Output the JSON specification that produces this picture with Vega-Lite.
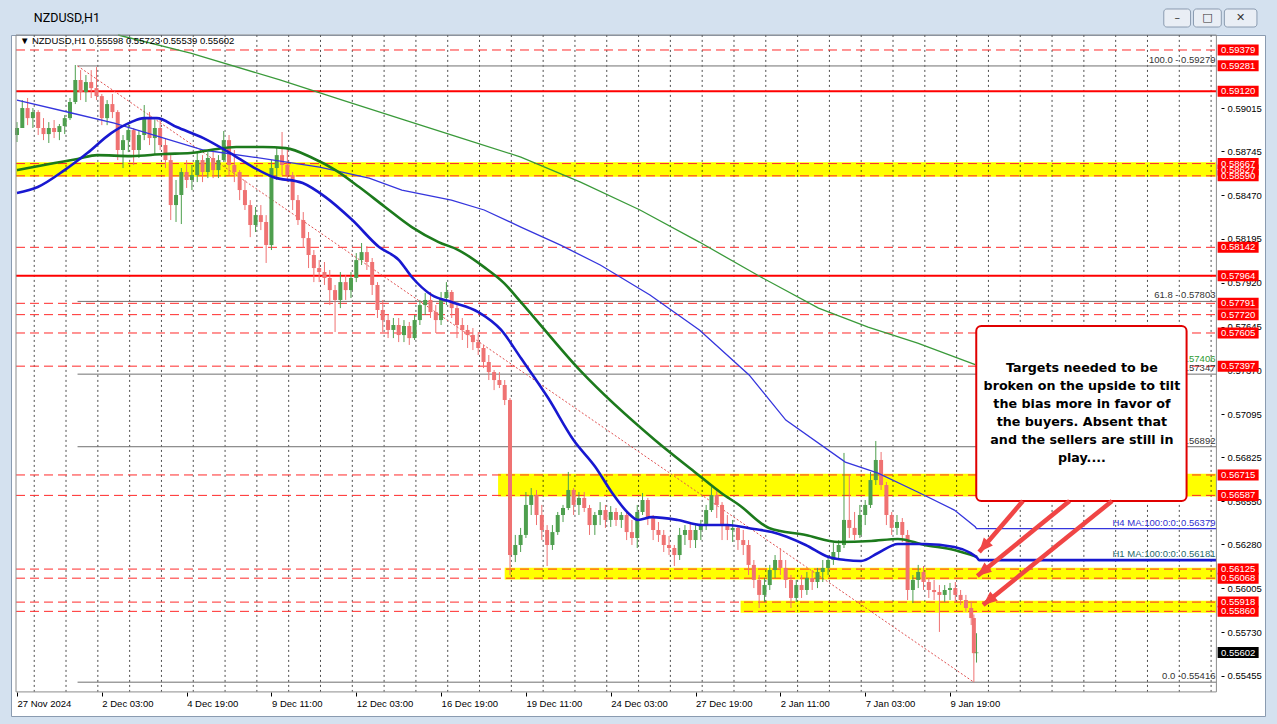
{
"$schema":"https://vega.github.io/schema/vega-lite/v6.json",
"width":1254,"height":681,
"autosize":{"type":"none"},
"padding":{"left":11,"top":35,"right":12,"bottom":8},
"background":"#d4e1ef",
"view":{"fill":"#ffffff","stroke":"#8a9bb0","strokeWidth":1},
"resolve":{"axis":{"x":"independent","y":"independent"}},
"datasets":{
"bands":[{"x1":-0.75,"p1":0.58585,"p2":0.58675},{"x1":363,"p1":0.5658,"p2":0.56722},{"x1":368,"p1":0.5606,"p2":0.56133},{"x1":546,"p1":0.55852,"p2":0.55926}],
"grid":[{"g":13},{"g":37},{"g":61},{"g":85},{"g":109},{"g":133},{"g":157},{"g":181},{"g":205},{"g":229},{"g":253},{"g":277},{"g":301},{"g":325},{"g":349},{"g":373},{"g":397},{"g":421},{"g":445},{"g":469},{"g":493},{"g":517},{"g":541},{"g":565},{"g":589},{"g":613},{"g":637},{"g":661},{"g":685},{"g":709},{"g":733},{"g":757},{"g":781},{"g":805},{"g":829},{"g":853},{"g":877},{"g":901}],
"levels":[{"p":0.59379,"k":"dash"},{"p":0.58667,"k":"dash"},{"p":0.5859,"k":"dash"},{"p":0.58142,"k":"dash"},{"p":0.57791,"k":"dash"},{"p":0.5772,"k":"dash"},{"p":0.57605,"k":"dash"},{"p":0.57397,"k":"dash"},{"p":0.56715,"k":"dash"},{"p":0.56587,"k":"dash"},{"p":0.56125,"k":"dash"},{"p":0.56068,"k":"dash"},{"p":0.55918,"k":"dash"},{"p":0.5586,"k":"dash"},{"p":0.5912,"k":"solid"},{"p":0.57964,"k":"solid"},{"p":0.59279,"k":"fib"},{"p":0.57803,"k":"fib"},{"p":0.57347,"k":"fib"},{"p":0.56892,"k":"fib"},{"p":0.55416,"k":"fib"}],
"candles":[
{"i":0,"o":0.58846,"h":0.58927,"l":0.58802,"c":0.5889},
{"i":4,"o":0.5889,"h":0.59065,"l":0.5889,"c":0.59015},
{"i":8,"o":0.59015,"h":0.59078,"l":0.58908,"c":0.58952},
{"i":12,"o":0.58952,"h":0.59015,"l":0.5889,"c":0.5899},
{"i":16,"o":0.5899,"h":0.59002,"l":0.58846,"c":0.5889},
{"i":20,"o":0.5889,"h":0.58952,"l":0.58814,"c":0.58852},
{"i":24,"o":0.58852,"h":0.58927,"l":0.58796,"c":0.5889},
{"i":28,"o":0.5889,"h":0.5894,"l":0.58827,"c":0.58865},
{"i":32,"o":0.58865,"h":0.58915,"l":0.58814,"c":0.58902},
{"i":36,"o":0.58902,"h":0.58971,"l":0.58852,"c":0.58952},
{"i":40,"o":0.58952,"h":0.59078,"l":0.5894,"c":0.59053},
{"i":44,"o":0.59053,"h":0.59285,"l":0.5904,"c":0.59191},
{"i":48,"o":0.59191,"h":0.59253,"l":0.59065,"c":0.59115},
{"i":52,"o":0.59115,"h":0.59222,"l":0.59053,"c":0.59178},
{"i":56,"o":0.59178,"h":0.59253,"l":0.59078,"c":0.5914},
{"i":60,"o":0.5914,"h":0.59272,"l":0.59065,"c":0.5909},
{"i":64,"o":0.5909,"h":0.59103,"l":0.58908,"c":0.58952},
{"i":68,"o":0.58952,"h":0.59065,"l":0.58908,"c":0.5904},
{"i":72,"o":0.5904,"h":0.59103,"l":0.58952,"c":0.5899},
{"i":76,"o":0.5899,"h":0.59002,"l":0.58689,"c":0.58752},
{"i":80,"o":0.58752,"h":0.58846,"l":0.58639,"c":0.58814},
{"i":84,"o":0.58814,"h":0.58927,"l":0.58739,"c":0.58877},
{"i":88,"o":0.58877,"h":0.5889,"l":0.58658,"c":0.58752},
{"i":92,"o":0.58752,"h":0.58877,"l":0.58702,"c":0.58846},
{"i":96,"o":0.58846,"h":0.59034,"l":0.58814,"c":0.58952},
{"i":100,"o":0.58952,"h":0.5899,"l":0.58783,"c":0.58827},
{"i":104,"o":0.58827,"h":0.5894,"l":0.5872,"c":0.5889},
{"i":108,"o":0.5889,"h":0.5894,"l":0.58752,"c":0.58783},
{"i":112,"o":0.58783,"h":0.58827,"l":0.58639,"c":0.58689},
{"i":116,"o":0.58689,"h":0.5872,"l":0.58313,"c":0.58407},
{"i":120,"o":0.58407,"h":0.58564,"l":0.58301,"c":0.5847},
{"i":124,"o":0.5847,"h":0.58639,"l":0.58288,"c":0.58614},
{"i":128,"o":0.58614,"h":0.58689,"l":0.58514,"c":0.58564},
{"i":132,"o":0.58564,"h":0.58658,"l":0.58501,"c":0.58595},
{"i":136,"o":0.58595,"h":0.58739,"l":0.58551,"c":0.58689},
{"i":140,"o":0.58689,"h":0.5872,"l":0.58551,"c":0.58614},
{"i":144,"o":0.58614,"h":0.58739,"l":0.58576,"c":0.58702},
{"i":148,"o":0.58702,"h":0.58752,"l":0.58576,"c":0.58626},
{"i":152,"o":0.58626,"h":0.5872,"l":0.58576,"c":0.58689},
{"i":156,"o":0.58689,"h":0.58871,"l":0.58677,"c":0.58814},
{"i":160,"o":0.58814,"h":0.58846,"l":0.58595,"c":0.58658},
{"i":164,"o":0.58658,"h":0.58752,"l":0.58551,"c":0.58614},
{"i":168,"o":0.58614,"h":0.58626,"l":0.58438,"c":0.58501},
{"i":172,"o":0.58501,"h":0.58564,"l":0.58376,"c":0.58407},
{"i":176,"o":0.58407,"h":0.58438,"l":0.58206,"c":0.58282},
{"i":180,"o":0.58282,"h":0.58395,"l":0.58238,"c":0.58344},
{"i":184,"o":0.58344,"h":0.58407,"l":0.5825,"c":0.58301},
{"i":188,"o":0.58301,"h":0.58344,"l":0.58044,"c":0.58156},
{"i":192,"o":0.58156,"h":0.58689,"l":0.58125,"c":0.58639},
{"i":196,"o":0.58639,"h":0.58771,"l":0.58564,"c":0.5872},
{"i":200,"o":0.5872,"h":0.58865,"l":0.58595,"c":0.58658},
{"i":204,"o":0.58658,"h":0.58764,"l":0.58551,"c":0.58595},
{"i":208,"o":0.58595,"h":0.58614,"l":0.58376,"c":0.58438},
{"i":212,"o":0.58438,"h":0.5847,"l":0.58282,"c":0.58313},
{"i":216,"o":0.58313,"h":0.58363,"l":0.58138,"c":0.582},
{"i":220,"o":0.582,"h":0.58238,"l":0.58012,"c":0.58094},
{"i":224,"o":0.58094,"h":0.58125,"l":0.57924,"c":0.58012},
{"i":228,"o":0.58012,"h":0.58062,"l":0.57924,"c":0.57987},
{"i":232,"o":0.57987,"h":0.5805,"l":0.57906,"c":0.5795},
{"i":236,"o":0.5795,"h":0.58,"l":0.5778,"c":0.57874},
{"i":240,"o":0.57874,"h":0.57906,"l":0.57611,"c":0.57812},
{"i":244,"o":0.57812,"h":0.57987,"l":0.57761,"c":0.57924},
{"i":248,"o":0.57924,"h":0.57968,"l":0.57812,"c":0.57874},
{"i":252,"o":0.57874,"h":0.57987,"l":0.57824,"c":0.5795},
{"i":256,"o":0.5795,"h":0.58106,"l":0.57924,"c":0.58062},
{"i":260,"o":0.58062,"h":0.58169,"l":0.58031,"c":0.58112},
{"i":264,"o":0.58112,"h":0.5815,"l":0.58,"c":0.5805},
{"i":268,"o":0.5805,"h":0.58075,"l":0.57843,"c":0.57906},
{"i":272,"o":0.57906,"h":0.57924,"l":0.57699,"c":0.57749},
{"i":276,"o":0.57749,"h":0.57812,"l":0.57611,"c":0.57686},
{"i":280,"o":0.57686,"h":0.57718,"l":0.57573,"c":0.57624},
{"i":284,"o":0.57624,"h":0.57699,"l":0.57573,"c":0.57655},
{"i":288,"o":0.57655,"h":0.57699,"l":0.57548,"c":0.57592},
{"i":292,"o":0.57592,"h":0.57686,"l":0.57548,"c":0.57649},
{"i":296,"o":0.57649,"h":0.57674,"l":0.5753,"c":0.57573},
{"i":300,"o":0.57573,"h":0.57718,"l":0.57561,"c":0.57686},
{"i":304,"o":0.57686,"h":0.57812,"l":0.57655,"c":0.5778},
{"i":308,"o":0.5778,"h":0.57855,"l":0.57718,"c":0.57812},
{"i":312,"o":0.57812,"h":0.57862,"l":0.57699,"c":0.57736},
{"i":316,"o":0.57736,"h":0.5778,"l":0.57605,"c":0.57686},
{"i":320,"o":0.57686,"h":0.57862,"l":0.57655,"c":0.57824},
{"i":324,"o":0.57824,"h":0.57924,"l":0.5778,"c":0.57862},
{"i":328,"o":0.57862,"h":0.57874,"l":0.57699,"c":0.57761},
{"i":332,"o":0.57761,"h":0.5778,"l":0.57573,"c":0.57655},
{"i":336,"o":0.57655,"h":0.57699,"l":0.57561,"c":0.57624},
{"i":340,"o":0.57624,"h":0.57655,"l":0.57511,"c":0.57592},
{"i":344,"o":0.57592,"h":0.57636,"l":0.57498,"c":0.57548},
{"i":348,"o":0.57548,"h":0.57611,"l":0.57467,"c":0.57511},
{"i":352,"o":0.57511,"h":0.5753,"l":0.57385,"c":0.57423},
{"i":356,"o":0.57423,"h":0.57467,"l":0.5731,"c":0.5736},
{"i":360,"o":0.5736,"h":0.57373,"l":0.57247,"c":0.5731},
{"i":364,"o":0.5731,"h":0.5736,"l":0.5726,"c":0.57279},
{"i":368,"o":0.57279,"h":0.5731,"l":0.57153,"c":0.57185},
{"i":372,"o":0.57185,"h":0.57197,"l":0.56088,"c":0.56213},
{"i":376,"o":0.56213,"h":0.56339,"l":0.56169,"c":0.56276},
{"i":380,"o":0.56276,"h":0.56383,"l":0.56232,"c":0.56339},
{"i":384,"o":0.56339,"h":0.56608,"l":0.5632,"c":0.56527},
{"i":388,"o":0.56527,"h":0.56633,"l":0.56464,"c":0.56589},
{"i":392,"o":0.56589,"h":0.56621,"l":0.56401,"c":0.56464},
{"i":396,"o":0.56464,"h":0.56527,"l":0.56307,"c":0.5637},
{"i":400,"o":0.5637,"h":0.56401,"l":0.56144,"c":0.56276},
{"i":404,"o":0.56276,"h":0.56401,"l":0.56245,"c":0.56357},
{"i":408,"o":0.56357,"h":0.56483,"l":0.56339,"c":0.56464},
{"i":412,"o":0.56464,"h":0.56527,"l":0.5642,"c":0.56508},
{"i":416,"o":0.56508,"h":0.56734,"l":0.56495,"c":0.56621},
{"i":420,"o":0.56621,"h":0.56633,"l":0.56464,"c":0.56527},
{"i":424,"o":0.56527,"h":0.56608,"l":0.56464,"c":0.56571},
{"i":428,"o":0.56571,"h":0.56608,"l":0.56483,"c":0.56508},
{"i":432,"o":0.56508,"h":0.56527,"l":0.56339,"c":0.56401},
{"i":436,"o":0.56401,"h":0.56483,"l":0.56339,"c":0.56464},
{"i":440,"o":0.56464,"h":0.56545,"l":0.56401,"c":0.56495},
{"i":444,"o":0.56495,"h":0.56527,"l":0.56383,"c":0.56433},
{"i":448,"o":0.56433,"h":0.5652,"l":0.56389,"c":0.56483},
{"i":452,"o":0.56483,"h":0.56508,"l":0.56395,"c":0.56433},
{"i":456,"o":0.56433,"h":0.56483,"l":0.56383,"c":0.56464},
{"i":460,"o":0.56464,"h":0.56483,"l":0.56307,"c":0.56357},
{"i":464,"o":0.56357,"h":0.56433,"l":0.56276,"c":0.5632},
{"i":468,"o":0.5632,"h":0.56527,"l":0.56257,"c":0.56483},
{"i":472,"o":0.56483,"h":0.56602,"l":0.56464,"c":0.56558},
{"i":476,"o":0.56558,"h":0.56571,"l":0.56401,"c":0.56445},
{"i":480,"o":0.56445,"h":0.56464,"l":0.56307,"c":0.5637},
{"i":484,"o":0.5637,"h":0.5642,"l":0.56295,"c":0.56339},
{"i":488,"o":0.56339,"h":0.5637,"l":0.56232,"c":0.56276},
{"i":492,"o":0.56276,"h":0.56332,"l":0.56213,"c":0.56257},
{"i":496,"o":0.56257,"h":0.56276,"l":0.56144,"c":0.56213},
{"i":500,"o":0.56213,"h":0.56383,"l":0.56182,"c":0.56339},
{"i":504,"o":0.56339,"h":0.56401,"l":0.56276,"c":0.5637},
{"i":508,"o":0.5637,"h":0.5642,"l":0.56257,"c":0.56307},
{"i":512,"o":0.56307,"h":0.56401,"l":0.56257,"c":0.5637},
{"i":516,"o":0.5637,"h":0.56433,"l":0.56307,"c":0.56401},
{"i":520,"o":0.56401,"h":0.56527,"l":0.5637,"c":0.56495},
{"i":524,"o":0.56495,"h":0.56639,"l":0.56483,"c":0.56589},
{"i":528,"o":0.56589,"h":0.56621,"l":0.56445,"c":0.56527},
{"i":532,"o":0.56527,"h":0.56545,"l":0.56307,"c":0.56401},
{"i":536,"o":0.56401,"h":0.56464,"l":0.56307,"c":0.5637},
{"i":540,"o":0.5637,"h":0.56433,"l":0.56295,"c":0.56383},
{"i":544,"o":0.56383,"h":0.56401,"l":0.56245,"c":0.56307},
{"i":548,"o":0.56307,"h":0.5637,"l":0.56213,"c":0.56276},
{"i":552,"o":0.56276,"h":0.56307,"l":0.56088,"c":0.56151},
{"i":556,"o":0.56151,"h":0.56182,"l":0.56006,"c":0.56057},
{"i":560,"o":0.56057,"h":0.56088,"l":0.55881,"c":0.55963},
{"i":564,"o":0.55963,"h":0.56069,"l":0.55919,"c":0.56025},
{"i":568,"o":0.56025,"h":0.56151,"l":0.55994,"c":0.56119},
{"i":572,"o":0.56119,"h":0.56213,"l":0.56069,"c":0.56182},
{"i":576,"o":0.56182,"h":0.56257,"l":0.56088,"c":0.56132},
{"i":580,"o":0.56132,"h":0.56182,"l":0.56006,"c":0.56057},
{"i":584,"o":0.56057,"h":0.56088,"l":0.55881,"c":0.55944},
{"i":588,"o":0.55944,"h":0.56057,"l":0.55919,"c":0.56025},
{"i":592,"o":0.56025,"h":0.56088,"l":0.55944,"c":0.55994},
{"i":596,"o":0.55994,"h":0.56107,"l":0.55963,"c":0.56069},
{"i":600,"o":0.56069,"h":0.56119,"l":0.55994,"c":0.56044},
{"i":604,"o":0.56044,"h":0.56132,"l":0.56006,"c":0.56107},
{"i":608,"o":0.56107,"h":0.56182,"l":0.56044,"c":0.56132},
{"i":612,"o":0.56132,"h":0.56213,"l":0.56088,"c":0.56182},
{"i":616,"o":0.56182,"h":0.56288,"l":0.56151,"c":0.56232},
{"i":620,"o":0.56232,"h":0.56307,"l":0.56182,"c":0.56276},
{"i":624,"o":0.56276,"h":0.56853,"l":0.56257,"c":0.56433},
{"i":628,"o":0.56433,"h":0.56715,"l":0.5632,"c":0.56383},
{"i":632,"o":0.56383,"h":0.56483,"l":0.56307,"c":0.56339},
{"i":636,"o":0.56339,"h":0.56527,"l":0.5632,"c":0.56464},
{"i":640,"o":0.56464,"h":0.56558,"l":0.56401,"c":0.56527},
{"i":644,"o":0.56527,"h":0.56734,"l":0.56508,"c":0.56683},
{"i":648,"o":0.56683,"h":0.56928,"l":0.56652,"c":0.56809},
{"i":652,"o":0.56809,"h":0.56859,"l":0.56621,"c":0.56652},
{"i":656,"o":0.56652,"h":0.56671,"l":0.56401,"c":0.56464},
{"i":660,"o":0.56464,"h":0.56483,"l":0.56339,"c":0.56383},
{"i":664,"o":0.56383,"h":0.56464,"l":0.56339,"c":0.5642},
{"i":668,"o":0.5642,"h":0.56445,"l":0.56295,"c":0.56339},
{"i":672,"o":0.56339,"h":0.5637,"l":0.55931,"c":0.55994},
{"i":676,"o":0.55994,"h":0.56088,"l":0.55912,"c":0.56057},
{"i":680,"o":0.56057,"h":0.56151,"l":0.56006,"c":0.56107},
{"i":684,"o":0.56107,"h":0.56144,"l":0.55994,"c":0.56044},
{"i":688,"o":0.56044,"h":0.56069,"l":0.55944,"c":0.55994},
{"i":692,"o":0.55994,"h":0.56057,"l":0.55931,"c":0.55981},
{"i":696,"o":0.55981,"h":0.56025,"l":0.55731,"c":0.55963},
{"i":700,"o":0.55963,"h":0.56025,"l":0.55919,"c":0.55994},
{"i":704,"o":0.55994,"h":0.56038,"l":0.55931,"c":0.56006},
{"i":708,"o":0.56006,"h":0.56044,"l":0.55919,"c":0.55963},
{"i":712,"o":0.55963,"h":0.55994,"l":0.559,"c":0.55931},
{"i":716,"o":0.55931,"h":0.55963,"l":0.55856,"c":0.55881},
{"i":720,"o":0.55881,"h":0.55919,"l":0.55774,"c":0.55818},
{"i":722,"o":0.55818,"h":0.5584,"l":0.55416,"c":0.55598},
{"i":724,"o":0.55598,"h":0.55723,"l":0.55539,"c":0.55602}
],
"ma":[
{"s":"g4","i":76.3,"v":0.59473},{"s":"g4","i":131,"v":0.5936},{"s":"g4","i":198.4,"v":0.59191},{"s":"g4","i":245.5,"v":0.59065},{"s":"g4","i":292.7,"v":0.5894},{"s":"g4","i":335.3,"v":0.58827},{"s":"g4","i":380.2,"v":0.58708},{"s":"g4","i":425.2,"v":0.58551},{"s":"g4","i":470.1,"v":0.58376},{"s":"g4","i":514.9,"v":0.58175},{"s":"g4","i":559.9,"v":0.57962},{"s":"g4","i":604.8,"v":0.57761},{"s":"g4","i":642.2,"v":0.57642},{"s":"g4","i":679.6,"v":0.57542},{"s":"g4","i":723,"v":0.57406},
{"s":"b4","i":0,"v":0.59065},{"s":"b4","i":41.2,"v":0.58984},{"s":"b4","i":73.4,"v":0.58921},{"s":"b4","i":103.3,"v":0.58846},{"s":"b4","i":140.7,"v":0.58752},{"s":"b4","i":178.1,"v":0.58708},{"s":"b4","i":228.3,"v":0.58645},{"s":"b4","i":265.7,"v":0.58576},{"s":"b4","i":290.4,"v":0.58501},{"s":"b4","i":327.8,"v":0.58438},{"s":"b4","i":352.5,"v":0.58376},{"s":"b4","i":380.2,"v":0.58269},{"s":"b4","i":410.2,"v":0.58156},{"s":"b4","i":440.1,"v":0.58031},{"s":"b4","i":477.6,"v":0.57843},{"s":"b4","i":514.9,"v":0.57624},{"s":"b4","i":552.4,"v":0.57342},{"s":"b4","i":580.1,"v":0.57059},{"s":"b4","i":625,"v":0.56796},{"s":"b4","i":649.7,"v":0.56727},{"s":"b4","i":679.6,"v":0.56608},{"s":"b4","i":707.3,"v":0.56495},{"s":"b4","i":723,"v":0.5639},{"s":"b4","i":724,"v":0.56379},{"s":"b4","i":905,"v":0.56379},
{"s":"g1","i":0,"v":0.58626},{"s":"g1","i":28.4,"v":0.5867},{"s":"g1","i":45.7,"v":0.58696},{"s":"g1","i":60.6,"v":0.5872},{"s":"g1","i":86.1,"v":0.58714},{"s":"g1","i":110.8,"v":0.58727},{"s":"g1","i":131,"v":0.58733},{"s":"g1","i":146,"v":0.58752},{"s":"g1","i":165.4,"v":0.58771},{"s":"g1","i":185.6,"v":0.58771},{"s":"g1","i":202.8,"v":0.58764},{"s":"g1","i":223,"v":0.58702},{"s":"g1","i":240.3,"v":0.58626},{"s":"g1","i":258.2,"v":0.5852},{"s":"g1","i":277.7,"v":0.58395},{"s":"g1","i":297.9,"v":0.58269},{"s":"g1","i":318.1,"v":0.58175},{"s":"g1","i":333.1,"v":0.58125},{"s":"g1","i":352.5,"v":0.58018},{"s":"g1","i":367.5,"v":0.57918},{"s":"g1","i":380.2,"v":0.57799},{"s":"g1","i":425.2,"v":0.57367},{"s":"g1","i":481.3,"v":0.56934},{"s":"g1","i":511.3,"v":0.56734},{"s":"g1","i":531.4,"v":0.56602},{"s":"g1","i":544.9,"v":0.56527},{"s":"g1","i":567.4,"v":0.56383},{"s":"g1","i":595.1,"v":0.56339},{"s":"g1","i":619.8,"v":0.56295},{"s":"g1","i":644.5,"v":0.56301},{"s":"g1","i":664.7,"v":0.56314},{"s":"g1","i":684.9,"v":0.56276},{"s":"g1","i":707.3,"v":0.56245},{"s":"g1","i":724.5,"v":0.56201},
{"s":"b1","i":0,"v":0.58482},{"s":"b1","i":15.7,"v":0.5852},{"s":"b1","i":35.9,"v":0.58626},{"s":"b1","i":53.1,"v":0.58733},{"s":"b1","i":71.1,"v":0.58858},{"s":"b1","i":86.1,"v":0.58927},{"s":"b1","i":95.8,"v":0.58952},{"s":"b1","i":105.5,"v":0.58952},{"s":"b1","i":120.5,"v":0.58896},{"s":"b1","i":140.7,"v":0.58827},{"s":"b1","i":160.9,"v":0.58733},{"s":"b1","i":178.1,"v":0.58645},{"s":"b1","i":193.1,"v":0.58583},{"s":"b1","i":215.6,"v":0.58545},{"s":"b1","i":232.8,"v":0.58457},{"s":"b1","i":253,"v":0.58313},{"s":"b1","i":273.2,"v":0.58144},{"s":"b1","i":288.2,"v":0.58062},{"s":"b1","i":297.9,"v":0.57956},{"s":"b1","i":312.9,"v":0.57843},{"s":"b1","i":327.8,"v":0.57799},{"s":"b1","i":348.1,"v":0.57736},{"s":"b1","i":365.3,"v":0.57624},{"s":"b1","i":380.2,"v":0.57448},{"s":"b1","i":400.8,"v":0.57197},{"s":"b1","i":419.9,"v":0.56934},{"s":"b1","i":436.4,"v":0.56765},{"s":"b1","i":449.1,"v":0.56602},{"s":"b1","i":461.1,"v":0.56477},{"s":"b1","i":468.6,"v":0.56433},{"s":"b1","i":479,"v":0.56451},{"s":"b1","i":498.5,"v":0.56433},{"s":"b1","i":516.5,"v":0.56401},{"s":"b1","i":535.9,"v":0.56401},{"s":"b1","i":556.1,"v":0.56376},{"s":"b1","i":569.6,"v":0.56357},{"s":"b1","i":595.1,"v":0.56276},{"s":"b1","i":612.3,"v":0.56201},{"s":"b1","i":625,"v":0.56182},{"s":"b1","i":637,"v":0.56176},{"s":"b1","i":649.7,"v":0.56226},{"s":"b1","i":664.7,"v":0.56282},{"s":"b1","i":684.9,"v":0.56282},{"s":"b1","i":707.3,"v":0.56264},{"s":"b1","i":719.3,"v":0.56226},{"s":"b1","i":724.5,"v":0.56195},{"s":"b1","i":726,"v":0.56181},{"s":"b1","i":905,"v":0.56181}
],
"notes":[{"t":"100.0 - 0.59279","p":0.59279,"k":"f"},{"t":"61.8 - 0.57803","p":0.57803,"k":"f"},{"t":"50.0 - 0.57347","p":0.57347,"k":"f"},{"t":"38.2 - 0.56892","p":0.56892,"k":"f"},{"t":"0.0 -0.55416","p":0.55416,"k":"f"},{"t":"H4 MA:200:0:0: 0.57406","p":0.57406,"k":"g"},{"t":"H4 MA:100:0:0: 0.56379","p":0.56379,"k":"b"},{"t":"H1 MA:100:0:0: 0.56181","p":0.56181,"k":"t"}],
"arrows":[{"n":1,"x1":759,"p1":0.56552,"x2":726,"p2":0.56232},{"n":2,"x1":794.2,"p1":0.56552,"x2":724.6,"p2":0.56082},{"n":3,"x1":826.3,"p1":0.56552,"x2":729,"p2":0.559}],
"tags":[{"p":0.59379},{"p":0.59281},{"p":0.5912},{"p":0.5859},{"p":0.58667},{"p":0.58627},{"p":0.58142},{"p":0.57964},{"p":0.57791},{"p":0.5772},{"p":0.57605},{"p":0.57397},{"p":0.56715},{"p":0.56587},{"p":0.56125},{"p":0.56068},{"p":0.55918},{"p":0.5586}],
"buttons":[{"b":"min","x1":865.3,"x2":885.5,"t":"–"},{"b":"max","x1":887.7,"x2":908.7,"t":"□"},{"b":"close","x1":911,"x2":935.6,"t":"✕"}]
},
"layer":[
{"data":{"name":"bands"},"mark":{"type":"rect","color":"#ffff00"},
 "encoding":{"x":{"field":"x1","type":"quantitative","scale":{"domain":[-0.75,937.9],"nice":false,"zero":false},"axis":null},"x2":{"datum":905},
 "y":{"field":"p1","type":"quantitative","scale":{"domain":[0.55204,0.59473],"nice":false,"zero":false},"axis":null},"y2":{"field":"p2"}}},
{"data":{"name":"grid"},"mark":{"type":"rule","color":"#000000","strokeDash":[2,3],"strokeWidth":1,"opacity":0.7},
 "encoding":{"x":{"field":"g","type":"quantitative","axis":null},"y":{"datum":0.55355,"type":"quantitative","axis":null},"y2":{"datum":0.59473}}},
{"data":{"name":"levels"},"transform":[{"filter":"datum.k=='dash'"}],"mark":{"type":"rule","color":"#ff2a2a","strokeDash":[9,5],"strokeWidth":1},
 "encoding":{"x":{"datum":-0.75,"type":"quantitative","axis":null},"x2":{"datum":905},"y":{"field":"p","type":"quantitative","axis":null}}},
{"data":{"name":"levels"},"transform":[{"filter":"datum.k=='solid'"}],"mark":{"type":"rule","color":"#ff0000","strokeWidth":2},
 "encoding":{"x":{"datum":-0.75,"type":"quantitative","axis":null},"x2":{"datum":905},"y":{"field":"p","type":"quantitative","axis":null}}},
{"data":{"name":"levels"},"transform":[{"filter":"datum.k=='fib'"}],"mark":{"type":"rule","color":"#707070","strokeWidth":1},
 "encoding":{"x":{"datum":45.7,"type":"quantitative","axis":null},"x2":{"datum":905},"y":{"field":"p","type":"quantitative","axis":null}}},
{"data":{"values":[{"x1":45.7,"p1":0.59279,"x2":722,"p2":0.55416}]},"mark":{"type":"rule","color":"#e05050","strokeDash":[2,2],"strokeWidth":1},
 "encoding":{"x":{"field":"x1","type":"quantitative","axis":null},"x2":{"field":"x2"},"y":{"field":"p1","type":"quantitative","axis":null},"y2":{"field":"p2"}}},
{"data":{"name":"candles"},"mark":{"type":"rule","strokeWidth":1},
 "encoding":{"x":{"field":"i","type":"quantitative","axis":{"orient":"bottom","offset":-24,"values":[0,64,128,192,256,320,384,448,512,576,640,704],"labelExpr":"['27 Nov 2024','2 Dec 03:00','4 Dec 19:00','9 Dec 11:00','12 Dec 03:00','16 Dec 19:00','19 Dec 11:00','24 Dec 03:00','27 Dec 19:00','2 Jan 11:00','7 Jan 03:00','9 Jan 19:00'][round(datum.value/64)]","labelAlign":"left","labelFont":"Liberation Sans","labelFontSize":9.5,"labelColor":"#000000","tickColor":"#000000","tickSize":4,"labelPadding":2,"domain":false,"grid":false,"title":null,"labelFlush":false,"labelOverlap":false}},
 "y":{"field":"l","type":"quantitative","axis":{"orient":"right","offset":-44,"values":[0.59015,0.58745,0.5847,0.58195,0.5792,0.57645,0.5737,0.57095,0.56825,0.5655,0.5628,0.56005,0.5573,0.55455],"format":".5f","labelFont":"Liberation Sans","labelFontSize":9.5,"labelColor":"#000000","tickColor":"#000000","tickSize":3,"labelPadding":3,"domain":false,"grid":false,"title":null,"labelOverlap":false,"labelBaseline":"middle"}},
 "y2":{"field":"h"},
 "color":{"condition":{"test":"datum.c >= datum.o","value":"#4e9f4e"},"value":"#ef7272"}}},
{"data":{"name":"candles"},"mark":{"type":"bar"},
 "encoding":{"x":{"field":"i","type":"quantitative","axis":null},"y":{"field":"o","type":"quantitative","axis":null},"y2":{"field":"c"},"size":{"value":4},
 "color":{"condition":{"test":"datum.c >= datum.o","value":"#4e9f4e"},"value":"#ef7272"}}},
{"data":{"name":"ma"},"transform":[{"filter":"datum.s=='g4' || datum.s=='b4'"}],"mark":{"type":"line","strokeWidth":1.3,"interpolate":"linear"},
 "encoding":{"x":{"field":"i","type":"quantitative","axis":null},"y":{"field":"v","type":"quantitative","axis":null},
 "color":{"field":"s","type":"nominal","scale":{"domain":["g4","b4","g1","b1"],"range":["#3a9a3a","#3535dd","#1c7a1c","#1818d0"]},"legend":null}}},
{"data":{"name":"ma"},"transform":[{"filter":"datum.s=='g1' || datum.s=='b1'"}],"mark":{"type":"line","strokeWidth":2.6,"interpolate":"monotone"},
 "encoding":{"x":{"field":"i","type":"quantitative","axis":null},"y":{"field":"v","type":"quantitative","axis":null},
 "color":{"field":"s","type":"nominal","scale":{"domain":["g4","b4","g1","b1"],"range":["#3a9a3a","#3535dd","#1c7a1c","#1818d0"]},"legend":null}}},
{"data":{"name":"notes"},"mark":{"type":"text","align":"right","baseline":"bottom","dy":-1,"font":"Liberation Sans","fontSize":9.5},
 "encoding":{"x":{"datum":904.3,"type":"quantitative","axis":null},"y":{"field":"p","type":"quantitative","axis":null},"text":{"field":"t"},
 "color":{"condition":[{"test":"datum.k=='g'","value":"#2f9a2f"},{"test":"datum.k=='b'","value":"#3030d0"},{"test":"datum.k=='t'","value":"#1f6a6a"}],"value":"#333333"}}},
{"data":{"values":[{}]},"mark":{"type":"text","align":"left","baseline":"middle","font":"Liberation Sans","fontSize":9.5,"color":"#000000"},
 "encoding":{"x":{"datum":2.2,"type":"quantitative","axis":null},"y":{"datum":0.59435,"type":"quantitative","axis":null},"text":{"value":"▼ NZDUSD,H1  0.55598 0.55723 0.55539 0.55602"}}},
{"data":{"values":[{}]},"mark":{"type":"rect","fill":"#ffffff","stroke":"#e00000","strokeWidth":2,"cornerRadius":5},
 "encoding":{"x":{"datum":723.8,"type":"quantitative","axis":null},"x2":{"datum":882.5},"y":{"datum":0.56552,"type":"quantitative","axis":null},"y2":{"datum":0.57649}}},
{"data":{"values":[{}]},"mark":{"type":"text","align":"center","baseline":"middle","font":"DejaVu Sans","fontWeight":"bold","fontSize":12.7,"lineHeight":18,"color":"#000000"},
 "encoding":{"x":{"datum":803.5,"type":"quantitative","axis":null},"y":{"datum":0.57385,"type":"quantitative","axis":null},
 "text":{"value":["Targets needed to be","broken on the upside to tilt","the bias more in favor of","the buyers. Absent that","and the sellers are still in","play...."]}}},
{"data":{"name":"arrows"},"mark":{"type":"rule","color":"#f04545","strokeWidth":4.5},
 "encoding":{"x":{"field":"x1","type":"quantitative","axis":null},"x2":{"field":"x2"},"y":{"field":"p1","type":"quantitative","axis":null},"y2":{"field":"p2"}}},
{"data":{"name":"arrows"},"mark":{"type":"point","shape":"M0,0L-0.6,1.4L0.6,1.4Z","filled":true,"size":400,"color":"#f04545","opacity":1},
 "encoding":{"x":{"field":"x2","type":"quantitative","axis":null},"y":{"field":"p2","type":"quantitative","axis":null},
 "angle":{"field":"n","type":"quantitative","scale":{"domain":[1,2,3],"range":[221,231,231]},"legend":null}}},
{"data":{"values":[{}]},"mark":{"type":"rect","fillOpacity":0,"stroke":"#8c8c8c","strokeWidth":1},
 "encoding":{"x":{"datum":-0.75,"type":"quantitative","axis":null},"x2":{"datum":905},"y":{"datum":0.55355,"type":"quantitative","axis":null},"y2":{"datum":0.59473}}},
{"data":{"name":"tags"},"mark":{"type":"tick","orient":"horizontal","size":41,"thickness":11,"color":"#ff0000","opacity":1},
 "encoding":{"x":{"datum":921.4,"type":"quantitative","axis":null},"y":{"field":"p","type":"quantitative","axis":null}}},
{"data":{"name":"tags"},"mark":{"type":"text","align":"center","baseline":"middle","font":"Liberation Sans","fontSize":9.5,"color":"#ffffff"},
 "encoding":{"x":{"datum":921.4,"type":"quantitative","axis":null},"y":{"field":"p","type":"quantitative","axis":null},"text":{"field":"p","format":".5f"}}},
{"data":{"values":[{"p":0.55602}]},"mark":{"type":"tick","orient":"horizontal","size":41,"thickness":11,"color":"#000000","opacity":1},
 "encoding":{"x":{"datum":921.4,"type":"quantitative","axis":null},"y":{"field":"p","type":"quantitative","axis":null}}},
{"data":{"values":[{"p":0.55602}]},"mark":{"type":"text","align":"center","baseline":"middle","font":"Liberation Sans","fontSize":9.5,"color":"#ffffff"},
 "encoding":{"x":{"datum":921.4,"type":"quantitative","axis":null},"y":{"field":"p","type":"quantitative","axis":null},"text":{"field":"p","format":".5f"}}},
{"data":{"name":"buttons"},"mark":{"type":"rect","fill":"#e9eef5","stroke":"#8a9bb0","strokeWidth":1,"cornerRadius":3},
 "encoding":{"x":{"field":"x1","type":"quantitative","axis":null},"x2":{"field":"x2"},"y":{"datum":0.59523,"type":"quantitative","axis":null},"y2":{"datum":0.59636}}},
{"data":{"name":"buttons"},"transform":[{"calculate":"(datum.x1+datum.x2)/2","as":"xm"}],"mark":{"type":"text","align":"center","baseline":"middle","font":"DejaVu Sans","fontSize":11,"color":"#333333"},
 "encoding":{"x":{"field":"xm","type":"quantitative","axis":null},"y":{"datum":0.5958,"type":"quantitative","axis":null},"text":{"field":"t"}}},
{"data":{"values":[{}]},"mark":{"type":"text","align":"left","baseline":"middle","font":"Roboto","fontSize":12.5,"color":"#000000"},
 "encoding":{"x":{"datum":12.7,"type":"quantitative","axis":null},"y":{"datum":0.59579,"type":"quantitative","axis":null},"text":{"value":"NZDUSD,H1"}}}
]
}
